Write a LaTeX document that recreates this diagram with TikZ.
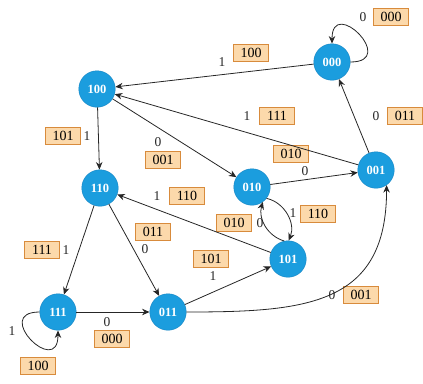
\documentclass[tikz,border=0pt]{standalone}
\usepackage{fontspec}
\setmainfont{Liberation Serif}
\usepackage{tikz}
\usetikzlibrary{arrows.meta}

\definecolor{stateblue}{HTML}{1B9DDE}
\definecolor{stateedge}{HTML}{1685C4}
\definecolor{boxfill}{HTML}{FCD9AB}
\definecolor{boxedge}{HTML}{D88B3C}

\begin{document}
\begin{tikzpicture}[
    x=1pt, y=-1pt,
    every node/.style={font=\fontsize{13.5}{15}\selectfont},
    regstate/.style={circle, draw=stateedge, fill=stateblue, text=white, minimum size=36.5pt, inner sep=0pt, font=\fontsize{12.5}{14}\selectfont\bfseries},
    outbox/.style={draw=boxedge, fill=boxfill, minimum width=35pt, minimum height=17pt, inner sep=0pt, font=\fontsize{14}{16}\selectfont},
    bit/.style={inner sep=1pt, text=black!85},
    trans/.style={-{Stealth[length=7.5pt,width=6.5pt]}, line width=0.8pt, black!85}
]
\useasboundingbox (0,0) rectangle (423,383);
\node[regstate] (n000) at (332,62) {000};
\node[regstate] (n100) at (97,89) {100};
\node[regstate] (n110) at (100,188) {110};
\node[regstate] (n010) at (252,187) {010};
\node[regstate] (n001) at (376,170) {001};
\node[regstate] (n101) at (288,259) {101};
\node[regstate] (n111) at (58,312) {111};
\node[regstate] (n011) at (168,312) {011};

\node[bit] (in1) at (363,17) {0};
\node[outbox] (out1) at (391,17) {000};
\node[bit] (in2) at (222,62) {1};
\node[outbox] (out2) at (251,53) {100};
\node[bit] (in3) at (247,116) {1};
\node[outbox] (out3) at (277,116) {111};
\node[bit] (in4) at (376,116) {0};
\node[outbox] (out4) at (405,116) {011};
\node[bit] (in5) at (305,171) {0};
\node[outbox] (out5) at (291,154) {010};
\node[bit] (in6) at (87,136) {1};
\node[outbox] (out6) at (63,136) {101};
\node[bit] (in7) at (158,142) {0};
\node[outbox] (out7) at (163,160) {001};
\node[bit] (in8) at (157,196) {1};
\node[outbox] (out8) at (187,196) {110};
\node[bit] (in9) at (145,249) {0};
\node[outbox] (out9) at (153,232) {011};
\node[bit] (in10) at (213,276) {1};
\node[outbox] (out10) at (211,259) {101};
\node[bit] (in11) at (260,223) {0};
\node[outbox] (out11) at (234,223) {010};
\node[bit] (in12) at (293,213) {1};
\node[outbox] (out12) at (318,214) {110};
\node[bit] (in13) at (66,250) {1};
\node[outbox] (out13) at (42,250) {111};
\node[bit] (in14) at (107,322) {0};
\node[outbox] (out14) at (112,339) {000};
\node[bit] (in15) at (12,331) {1};
\node[outbox] (out15) at (38,366) {100};
\node[bit] (in16) at (332,295) {0};
\node[outbox] (out16) at (361,295) {001};

\draw[trans] (n000) to[out=0, in=90, looseness=4.7] (n000);
\draw[trans] (n111) to[out=180, in=270, looseness=4.7] (n111);
\draw[trans] (n000) -- (n100);
\draw[trans] (n001) -- (n100);
\draw[trans] (n001) -- (n000);
\draw[trans] (n010) -- (n001);
\draw[trans] (n100) -- (n110);
\draw[trans] (n100) -- (n010);
\draw[trans] (n101) -- (n110);
\draw[trans] (n110) -- (n111);
\draw[trans] (n110) -- (n011);
\draw[trans] (n011) -- (n101);
\draw[trans] (n111) -- (n011);
\draw[trans] (n010.-38) to[bend left=50] (n101.88);
\draw[trans] (n101.102) to[bend left=45] (n010.-54);
\draw[trans] (n011) to[out=0, in=270, looseness=1.3] (n001.-55);
\end{tikzpicture}
\end{document}
